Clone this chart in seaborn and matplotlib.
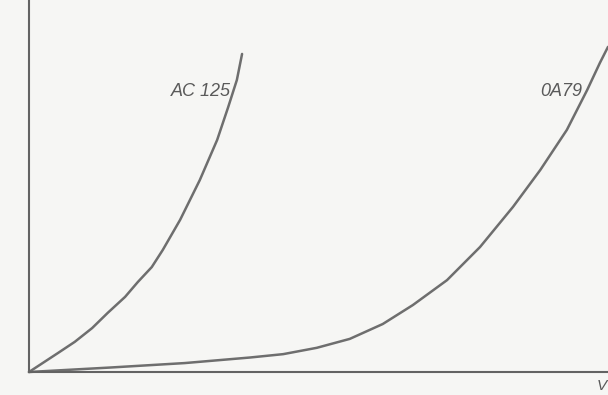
import matplotlib
matplotlib.use("Agg")
import matplotlib.pyplot as plt
import seaborn as sns
import pandas as pd

# Read-off values (x: relative forward voltage 0..1, y: current 0..10 arbitrary units)
ac125_x = [0, 0.050, 0.079, 0.109, 0.136, 0.166, 0.188, 0.212, 0.231, 0.261, 0.295, 0.325, 0.344, 0.359, 0.368]
ac125_y = [0, 0.51, 0.81, 1.18, 1.59, 2.02, 2.42, 2.82, 3.28, 4.09, 5.16, 6.24, 7.12, 7.85, 8.55]

oa79_x = [0, 0.140, 0.269, 0.382, 0.439, 0.497, 0.554, 0.611, 0.663, 0.722, 0.779, 0.836, 0.883, 0.929, 0.964, 0.986, 1.000]
oa79_y = [0, 0.12, 0.24, 0.39, 0.48, 0.65, 0.89, 1.29, 1.80, 2.47, 3.36, 4.44, 5.43, 6.51, 7.58, 8.31, 8.74]

labels = ["AC 125", "0A79"]
x_label = "V"

sns.set_theme(style="white")
plt.rcParams['font.family'] = ['Liberation Sans', 'DejaVu Sans']

df = pd.concat([
    pd.DataFrame({"x": ac125_x, "y": ac125_y, "diode": labels[0]}),
    pd.DataFrame({"x": oa79_x, "y": oa79_y, "diode": labels[1]}),
], ignore_index=True)

W, H = 608, 395
fig = plt.figure(figsize=(W / 100, H / 100), dpi=100)
bg = "#f6f6f4"
fig.patch.set_facecolor(bg)
ax = fig.add_axes([29 / W, (H - 372) / H, (W - 29) / W, 372 / H])
ax.set_facecolor(bg)

line_col = "#6e6e6e"
sns.lineplot(data=df, x="x", y="y", hue="diode", sort=False, estimator=None,
             palette={labels[0]: line_col, labels[1]: line_col},
             linewidth=1.8, legend=False, ax=ax, clip_on=False)
for ln in ax.lines:
    ln.set_solid_joinstyle("round")
    ln.set_solid_capstyle("round")
    ln.set_antialiased(True)

ax.set_xlim(0, 1.0)
ax.set_ylim(0, 10)
ax.set_xticks([])
ax.set_yticks([])
ax.set_xlabel("")
ax.set_ylabel("")
for s in ["top", "right"]:
    ax.spines[s].set_visible(False)
for s in ["left", "bottom"]:
    ax.spines[s].set_color("#636363")
    ax.spines[s].set_linewidth(1.5)

txt_col = "#5a5a5a"
ax.text(0.348, 7.55, labels[0], ha="right", va="center", fontsize=13,
        style="italic", color=txt_col)
ax.text(0.955, 7.55, labels[1], ha="right", va="center", fontsize=13,
        style="italic", color=txt_col)

fig.text(607 / W, 1 - 386 / H, x_label, ha="right", va="center", fontsize=11,
         style="italic", color=txt_col)

fig.savefig("out.png", dpi=100, facecolor=bg)
